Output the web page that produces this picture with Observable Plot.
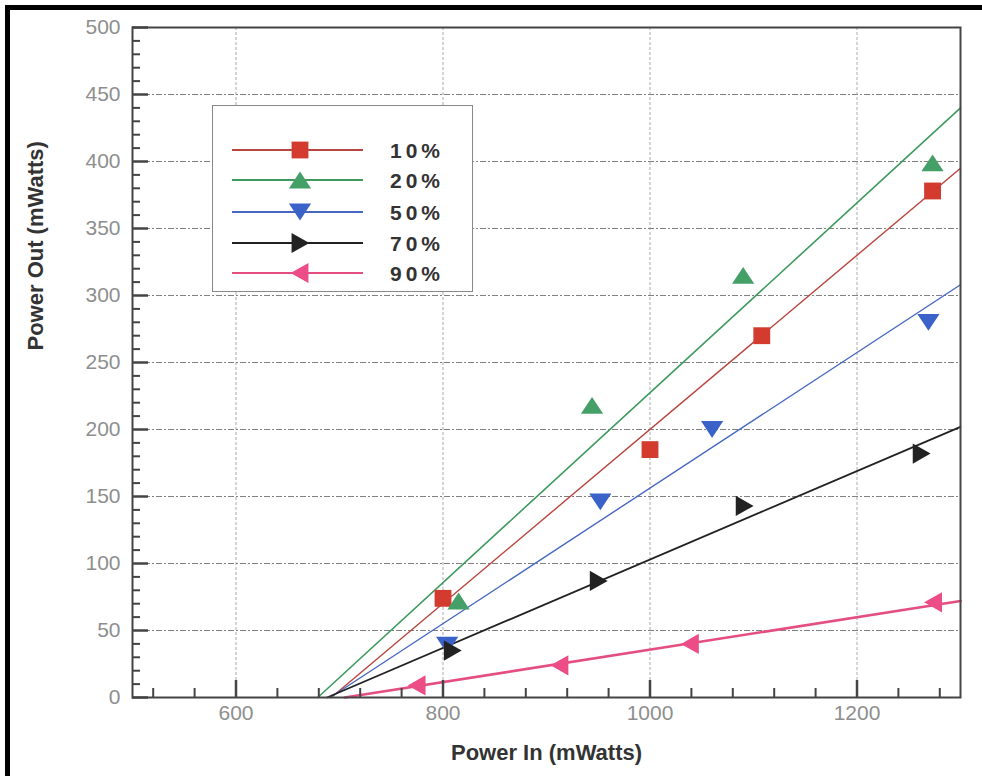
<!DOCTYPE html>
<html>
<head>
<meta charset="utf-8">
<script src="https://cdn.jsdelivr.net/npm/d3@7"></script>
<script src="https://cdn.jsdelivr.net/npm/@observablehq/plot@0.6"></script>
<style>
  html, body { margin: 0; padding: 0; background: #fff; }
  #wrap { position: relative; width: 982px; height: 776px; overflow: hidden; }
  #border { position: absolute; left: 5px; top: 5px; width: 990px; height: 800px;
            border-top: 5px solid #000; border-left: 5px solid #000; pointer-events: none; }
  #chart { position: absolute; left: 0; top: 0; }
  #legend { position: absolute; left: 212px; top: 105px; }
</style>
</head>
<body>
<div id="wrap">
  <div id="chart"></div>
  <div id="legend"></div>
  <div id="border"></div>
</div>
<script>
// ---------- data ----------
const series = ["10%", "20%", "50%", "70%", "90%"];
const seriesColors = ["#d23b2e", "#45a068", "#3b62c8", "#222222", "#ec4d86"];
const lineColors   = ["#b8453f", "#3f9a5e", "#4768c2", "#222222", "#e44f80"];

// measured points (Power In, Power Out)
const powerIn10  = [800, 1000, 1108, 1273];
const powerOut10 = [74, 185, 270, 378];
const powerIn20  = [815, 944, 1090, 1273];
const powerOut20 = [72, 218, 315, 399];
const powerIn50  = [804, 952, 1060, 1269];
const powerOut50 = [39, 146, 200, 280];
const powerIn70  = [809, 950, 1091, 1262];
const powerOut70 = [35, 87, 143, 182];
const powerIn90  = [775, 913, 1039, 1274];
const powerOut90 = [9, 24, 40, 71];

// fitted lines: start (x-intercept) and end (at x = 1300)
const fitStartX = [692, 679, 691, 688, 705];
const fitEndX   = [1300, 1300, 1300, 1300, 1300];
const fitEndY   = [395, 440, 308, 202, 72];

// axes
const xDomain = [500, 1300];
const yDomain = [0, 500];
const xMajorTicks = [600, 800, 1000, 1200];
const xMinorTicks = [520, 560, 640, 680, 720, 760, 840, 880, 920, 960, 1040, 1080, 1120, 1160, 1240, 1280];
const yMajorTicks = [0, 50, 100, 150, 200, 250, 300, 350, 400, 450, 500];
const yMinorTicks = d3.range(10, 500, 10).filter(v => v % 50 !== 0);
const yGridTicks = [50, 100, 150, 200, 250, 300, 350, 400, 450];

// ---------- layout ----------
const W = 982, H = 776;
const mL = 132, mR = 22, mT = 27, mB = 79;
// data units per pixel (for tick lengths given in pixels)
const xPerPx = (xDomain[1] - xDomain[0]) / (W - mL - mR);
const yPerPx = (yDomain[1] - yDomain[0]) / (H - mT - mB);

// ---------- build tables ----------
const pointSets = [
  [powerIn10, powerOut10], [powerIn20, powerOut20], [powerIn50, powerOut50],
  [powerIn70, powerOut70], [powerIn90, powerOut90]
];
const points = pointSets.flatMap(([xs, ys], i) =>
  xs.map((x, j) => ({series: series[i], x, y: ys[j]})));
const fitLines = series.flatMap((s, i) => [
  {series: s, x: fitStartX[i], y: 0},
  {series: s, x: fitEndX[i], y: fitEndY[i]}
]);

// ---------- custom symbols ----------
function tri(dir) {
  return {
    draw(ctx, size) {
      const s = Math.sqrt(size);
      const w = 0.66 * s, h = 0.5 * s;
      if (dir === "up")    { ctx.moveTo(0, -h); ctx.lineTo(w, h); ctx.lineTo(-w, h); }
      if (dir === "down")  { ctx.moveTo(0, h); ctx.lineTo(w, -h); ctx.lineTo(-w, -h); }
      if (dir === "right") { ctx.moveTo(h + 1, 0); ctx.lineTo(-h, w - 1); ctx.lineTo(-h, -w + 1); }
      if (dir === "left")  { ctx.moveTo(-h - 1, 0); ctx.lineTo(h, w - 1); ctx.lineTo(h, -w + 1); }
      ctx.closePath();
    }
  };
}
const squareSym = { draw(ctx, size) { const s = Math.sqrt(size) / 2; ctx.rect(-s, -s, 2 * s, 2 * s); } };
const symbols = [squareSym, tri("up"), tri("down"), tri("right"), tri("left")];
const lineWidths = [1.4, 1.6, 1.4, 1.8, 2.6];

const tickFont = {fontSize: 21, fill: "#8e8e8e", letterSpacing: "2.5px", tickFormat: d => String(d)};

const marks = [
  Plot.gridY(yGridTicks, {stroke: "#555", strokeOpacity: 0.75, strokeWidth: 1, strokeDasharray: "6,2,2,2"}),
  Plot.gridX(xMajorTicks, {stroke: "#888", strokeOpacity: 0.7, strokeWidth: 1, strokeDasharray: "3,2"}),
];
series.forEach((s, i) => {
  marks.push(Plot.line(fitLines.filter(d => d.series === s),
    {x: "x", y: "y", stroke: lineColors[i], strokeWidth: lineWidths[i]}));
});
series.forEach((s, i) => {
  marks.push(Plot.dot(points.filter(d => d.series === s),
    {x: "x", y: "y", symbol: symbols[i], r: 9.5, fill: seriesColors[i], stroke: "none"}));
});
marks.push(
  Plot.frame({stroke: "#444", strokeWidth: 2}),
  // inward ticks
  Plot.ruleY(yMinorTicks, {y: d => d, x1: xDomain[0], x2: xDomain[0] + 8 * xPerPx, stroke: "#444", strokeWidth: 2}),
  Plot.ruleY(yMajorTicks, {y: d => d, x1: xDomain[0], x2: xDomain[0] + 16 * xPerPx, stroke: "#444", strokeWidth: 2.5}),
  Plot.ruleX(xMinorTicks, {x: d => d, y1: yDomain[0], y2: yDomain[0] + 9 * yPerPx, stroke: "#444", strokeWidth: 2}),
  Plot.ruleX(xMajorTicks, {x: d => d, y1: yDomain[0], y2: yDomain[0] + 17 * yPerPx, stroke: "#444", strokeWidth: 2.5}),
  // tick labels
  Plot.axisY(yMajorTicks, {tickSize: 0, tickPadding: 12, label: null, ...tickFont}),
  Plot.axisX(xMajorTicks, {tickSize: 0, tickPadding: 8, label: null, ...tickFont}),
  // axis titles
  Plot.text(["Power In (mWatts)"], {frameAnchor: "bottom", dy: 62, text: d => d,
    fontSize: 22, fontWeight: "bold", fill: "#333", letterSpacing: "3px"}),
  Plot.text(["Power Out (mWatts)"], {frameAnchor: "left", dx: -97, dy: -12, rotate: -90, text: d => d,
    fontSize: 22, fontWeight: "bold", fill: "#333"})
);

const chart = Plot.plot({
  width: W, height: H,
  marginLeft: mL, marginRight: mR, marginTop: mT, marginBottom: mB,
  x: {domain: xDomain},
  y: {domain: yDomain},
  style: {fontFamily: "'Liberation Sans', Arial, sans-serif", background: "transparent"},
  marks
});
document.getElementById("chart").appendChild(chart);

// ---------- legend ----------
const lg = d3.select("#legend").append("svg").attr("width", 262).attr("height", 188)
  .style("font-family", "'Liberation Sans', Arial, sans-serif");
lg.append("rect").attr("x", 0.5).attr("y", 0.5).attr("width", 260).attr("height", 186)
  .attr("fill", "#fff").attr("stroke", "#888").attr("stroke-width", 1);
const rowY = [45, 75, 107, 138, 168];
series.forEach((s, i) => {
  const g = lg.append("g").attr("transform", `translate(0,${rowY[i]})`);
  g.append("line").attr("x1", 20).attr("x2", 151).attr("y1", 0).attr("y2", 0)
    .attr("stroke", lineColors[i]).attr("stroke-width", 2.2);
  g.append("path").attr("transform", "translate(88,0)")
    .attr("d", d3.symbol(symbols[i], 9.5 * 9.5 * Math.PI)())
    .attr("fill", seriesColors[i]);
  g.append("text").attr("x", 178).attr("y", 0).attr("dy", "0.36em").text(s)
    .attr("font-size", 21).attr("font-weight", "bold").attr("fill", "#333")
    .attr("letter-spacing", "4px");
});
</script>
</body>
</html>
